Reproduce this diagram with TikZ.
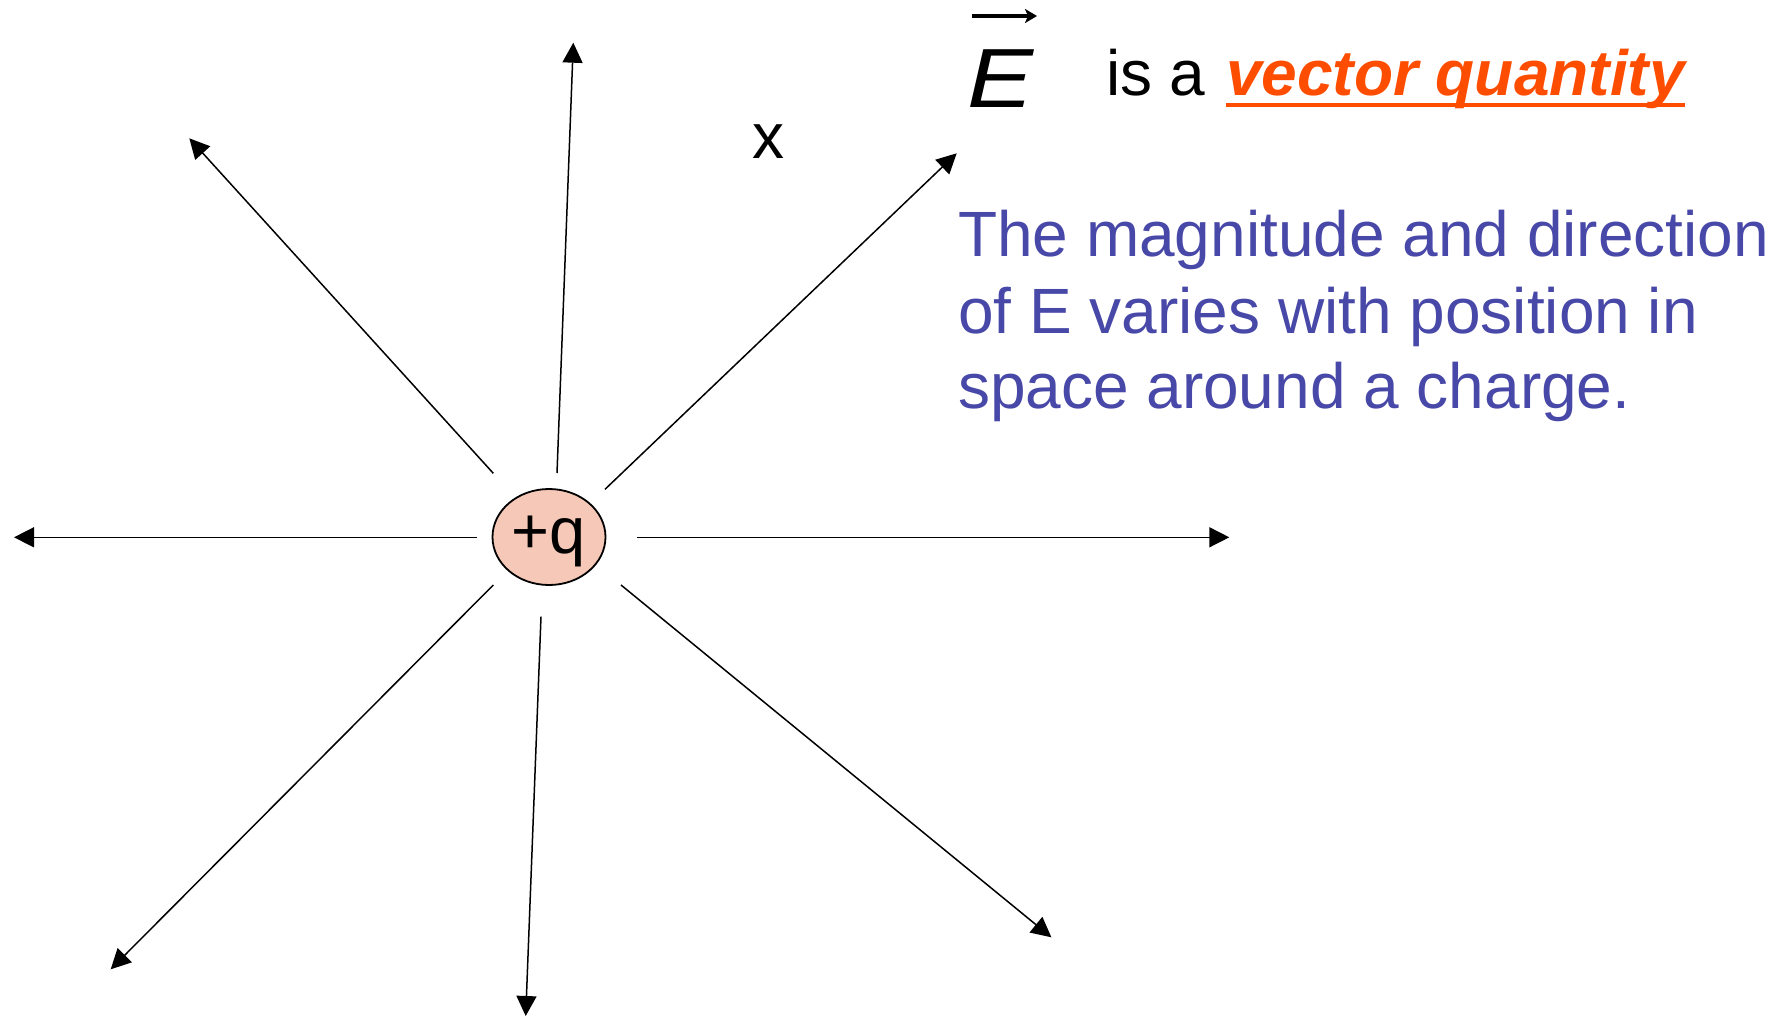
\documentclass[tikz,border=0pt]{standalone}
\usepackage{fontspec}
\setmainfont{Liberation Sans}
\usetikzlibrary{arrows.meta,shapes.geometric}
\definecolor{orangeq}{HTML}{FF4D00}
\definecolor{bluetxt}{HTML}{4848A8}
\definecolor{chargefill}{HTML}{F6C8B8}
\begin{document}
\begin{tikzpicture}[x=1pt,y=-1pt,
  field/.style={line width=1.5pt,-{Triangle[length=20pt,width=20pt]}},
  txt/.style={inner sep=0pt,outer sep=0pt,anchor=base west,font=\fontsize{64}{76}\selectfont},
  bluetext/.style={txt,text=bluetxt},
  charge/.style={ellipse,draw,line width=1.8pt,fill=chargefill,minimum width=113pt,minimum height=96pt,inner sep=0pt}]
\useasboundingbox (0,0) rectangle (1788,1017);

% charge
\node[charge] (q) at (549,537) {};
\node[inner sep=0pt,anchor=base,font=\fontsize{65}{74}\selectfont] (qt) at (548.5,553) {+q};

% field line end points
\coordinate (s1) at (557,473);     \coordinate (e1) at (573.3,42.7);
\coordinate (s2) at (493.3,473.3); \coordinate (e2) at (189.3,138.3);
\coordinate (s3) at (605,489.3);   \coordinate (e3) at (956.7,153.3);
\coordinate (s4) at (637.3,537.3); \coordinate (e4) at (1229.3,537.3);
\coordinate (s5) at (477.3,537.3); \coordinate (e5) at (14,537.3);
\coordinate (s6) at (493.3,585);   \coordinate (e6) at (110.7,969.3);
\coordinate (s7) at (541,616.7);   \coordinate (e7) at (525.7,1016);
\coordinate (s8) at (621,585);     \coordinate (e8) at (1051.4,937.3);

\foreach \i in {1,...,8} \draw[field] (s\i) -- (e\i);

% x marker
\node[inner sep=0pt,font=\fontsize{64}{76}\selectfont] (xm) at (768,142) {x};

% E vector
\node[inner sep=0pt,outer sep=0pt,anchor=base west,font=\fontsize{84}{90}\selectfont\itshape] (E) at (967,107) {\scalebox{1.18}[1]{E}};
\coordinate (va) at (972,16);
\coordinate (vb) at (1037,16);
\draw[line width=3.2pt,-{Stealth[length=12pt,width=14pt,inset=3pt]}] (va) -- (vb);

\node[txt] (isa) at (1106,95) {is a};
\node[txt,text=orangeq,font=\fontsize{64}{76}\selectfont\bfseries\itshape] (vq) at (1226,95) {vector quantity};
\draw[orangeq,line width=3.5pt] ([yshift=-10pt]vq.base west) -- ([yshift=-10pt]vq.base east);

% description
\node[bluetext] (l1) at (958,256.5) {The magnitude and direction};
\node[bluetext] (l2) at (958,333) {of E varies with position in};
\node[bluetext] (l3) at (958,408.5) {space around a charge.};
\end{tikzpicture}
\end{document}
